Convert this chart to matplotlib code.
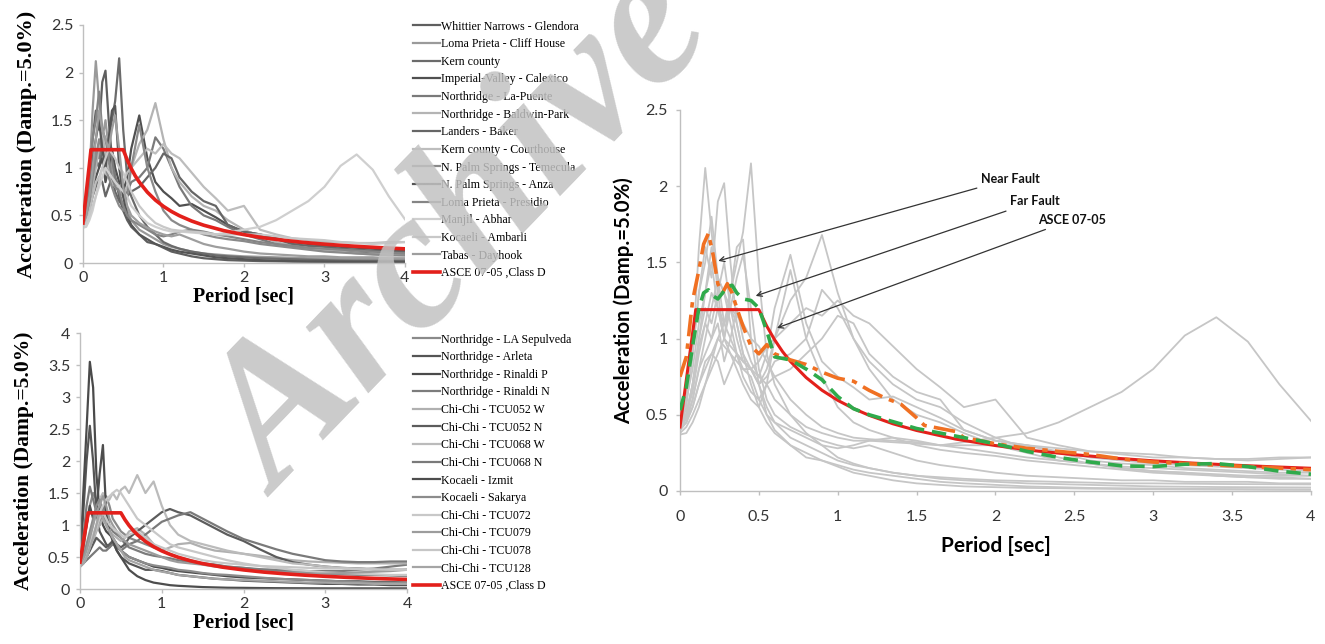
import matplotlib
matplotlib.use("Agg")
import matplotlib.pyplot as plt
from matplotlib.ticker import FuncFormatter, MultipleLocator

# ---------------------------------------------------------------- data
# common period grid (sec) for the individual record spectra
periods = [0, 0.04, 0.08, 0.12, 0.16, 0.2, 0.24, 0.28, 0.32, 0.36, 0.4, 0.45,
           0.5, 0.55, 0.6, 0.7, 0.8, 0.9, 1.0, 1.1, 1.2, 1.35, 1.5, 1.65, 1.8,
           2.0, 2.2, 2.4, 2.6, 2.8, 3.0, 3.2, 3.4, 3.6, 3.8, 4.0]

far_names = ["Whittier Narrows - Glendora", "Loma Prieta - Cliff House", "Kern county",
             "Imperial-Valley - Calexico", "Northridge - La-Puente", "Northridge - Baldwin-Park",
             "Landers - Baker", "Kern county - Courthouse", "N. Palm Springs - Temecula",
             "N. Palm Springs - Anza", "Loma Prieta - Presidio", "Manjil - Abhar",
             "Kocaeli - Ambarli", "Tabas - Dayhook"]
far_colors = ["#5f5f5f", "#9a9a9a", "#6b6b6b", "#505050", "#7a7a7a", "#b4b4b4", "#666666",
              "#bdbdbd", "#8a8a8a", "#555555", "#858585", "#cfcfcf", "#c8c8c8", "#9e9e9e"]

whittier = [0.42, 0.6, 0.9, 1.3, 1.6, 1.4, 1.9, 2.02, 1.5, 1.1, 0.9, 0.7, 0.55, 0.45, 0.38, 0.3, 0.22, 0.2,
            0.16, 0.12, 0.1, 0.07, 0.05, 0.04, 0.03, 0.025, 0.02, 0.018, 0.015, 0.013, 0.012, 0.011, 0.01,
            0.009, 0.008, 0.008]
cliff_house = [0.4, 0.55, 0.9, 1.6, 2.12, 1.7, 1.3, 1.5, 1.2, 1.0, 0.85, 0.8, 0.7, 0.55, 0.45, 0.35, 0.3, 0.25,
               0.2, 0.17, 0.15, 0.12, 0.1, 0.09, 0.08, 0.07, 0.065, 0.06, 0.055, 0.05, 0.05, 0.048, 0.046,
               0.045, 0.044, 0.043]
kern = [0.42, 0.5, 0.7, 0.95, 1.1, 1.0, 1.2, 1.1, 1.3, 1.5, 1.7, 2.15, 1.4, 0.9, 0.7, 0.5, 0.38, 0.3, 0.22,
        0.18, 0.15, 0.12, 0.1, 0.08, 0.07, 0.06, 0.05, 0.045, 0.04, 0.035, 0.03, 0.028, 0.026, 0.025, 0.024,
        0.023]
calexico = [0.4, 0.45, 0.6, 0.8, 0.9, 1.0, 1.1, 0.85, 1.0, 1.2, 1.0, 0.85, 0.75, 0.9, 1.2, 1.55, 1.1, 0.85,
            0.75, 0.68, 0.6, 0.62, 0.55, 0.48, 0.4, 0.33, 0.3, 0.26, 0.22, 0.2, 0.18, 0.17, 0.16, 0.15, 0.14,
            0.13]
la_puente = [0.42, 0.5, 0.7, 1.0, 1.2, 1.1, 1.3, 1.0, 1.2, 1.1, 0.9, 0.8, 0.7, 0.75, 0.85, 0.9, 1.0, 1.32,
             1.2, 1.0, 0.8, 0.6, 0.5, 0.45, 0.38, 0.3, 0.25, 0.2, 0.18, 0.15, 0.13, 0.12, 0.11, 0.1, 0.1, 0.1]
baldwin_park = [0.4, 0.48, 0.6, 0.8, 1.0, 1.2, 1.4, 1.1, 1.0, 0.9, 0.85, 0.8, 0.7, 0.8, 1.0, 1.25, 1.4, 1.68,
                1.3, 1.0, 0.85, 0.7, 0.6, 0.55, 0.45, 0.35, 0.28, 0.22, 0.18, 0.15, 0.13, 0.12, 0.1, 0.09,
                0.09, 0.08]
baker = [0.42, 0.45, 0.55, 0.7, 0.8, 0.9, 0.85, 0.7, 0.8, 0.9, 0.75, 0.65, 0.6, 0.7, 0.75, 0.8, 0.9, 1.0,
         1.15, 1.1, 0.9, 0.75, 0.65, 0.6, 0.4, 0.33, 0.3, 0.25, 0.2, 0.18, 0.17, 0.15, 0.14, 0.13, 0.12, 0.12]
courthouse = [0.4, 0.45, 0.55, 0.7, 0.85, 0.9, 1.0, 0.95, 0.9, 0.85, 0.8, 0.8, 0.85, 0.95, 1.0, 1.1, 1.2,
              1.15, 1.25, 1.15, 1.1, 0.95, 0.8, 0.68, 0.55, 0.6, 0.35, 0.3, 0.26, 0.24, 0.22, 0.22, 0.21,
              0.21, 0.22, 0.22]
temecula = [0.4, 0.5, 0.65, 0.9, 1.1, 1.3, 1.2, 1.0, 0.9, 0.8, 0.7, 0.6, 0.55, 0.7, 1.0, 1.45, 1.0, 0.75,
            0.55, 0.45, 0.4, 0.35, 0.3, 0.27, 0.25, 0.23, 0.2, 0.18, 0.16, 0.14, 0.12, 0.11, 0.1, 0.09, 0.08,
            0.08]
anza = [0.42, 0.6, 0.8, 1.1, 1.3, 1.5, 1.2, 1.0, 1.3, 1.6, 1.65, 1.0, 0.7, 0.5, 0.4, 0.3, 0.25, 0.2, 0.17,
        0.14, 0.12, 0.1, 0.08, 0.06, 0.05, 0.04, 0.03, 0.025, 0.02, 0.018, 0.016, 0.014, 0.013, 0.012, 0.011,
        0.01]
presidio = [0.42, 0.6, 0.9, 1.3, 1.5, 1.8, 1.4, 1.3, 1.1, 0.9, 0.8, 0.75, 0.6, 0.5, 0.45, 0.4, 0.35, 0.3,
            0.28, 0.3, 0.33, 0.35, 0.33, 0.3, 0.28, 0.25, 0.22, 0.2, 0.18, 0.16, 0.15, 0.14, 0.13, 0.12, 0.11,
            0.1]
abhar = [0.37, 0.38, 0.45, 0.55, 0.7, 0.8, 0.9, 1.0, 0.95, 0.9, 0.85, 0.8, 0.75, 0.7, 0.6, 0.5, 0.42, 0.38,
         0.35, 0.33, 0.33, 0.32, 0.31, 0.3, 0.32, 0.35, 0.38, 0.45, 0.55, 0.65, 0.8, 1.02, 1.14, 0.98, 0.7,
         0.46]
ambarli = [0.38, 0.42, 0.5, 0.6, 0.7, 0.85, 1.0, 1.1, 1.2, 1.15, 1.1, 1.0, 0.95, 0.85, 0.75, 0.6, 0.5, 0.42,
           0.38, 0.35, 0.34, 0.33, 0.32, 0.3, 0.3, 0.3, 0.3, 0.28, 0.26, 0.25, 0.24, 0.22, 0.21, 0.2, 0.21,
           0.22]
dayhook = [0.4, 0.5, 0.7, 1.0, 1.3, 1.6, 1.4, 1.3, 1.2, 1.4, 1.55, 1.2, 0.8, 0.6, 0.5, 0.42, 0.37, 0.33, 0.3,
           0.28, 0.3, 0.25, 0.2, 0.17, 0.15, 0.12, 0.1, 0.09, 0.08, 0.07, 0.07, 0.06, 0.06, 0.06, 0.05, 0.05]

far_records = [whittier, cliff_house, kern, calexico, la_puente, baldwin_park, baker, courthouse,
               temecula, anza, presidio, abhar, ambarli, dayhook]

near_names = ["Northridge - LA Sepulveda", "Northridge - Arleta", "Northridge - Rinaldi P",
              "Northridge - Rinaldi N", "Chi-Chi - TCU052 W", "Chi-Chi - TCU052 N", "Chi-Chi - TCU068 W",
              "Chi-Chi - TCU068 N", "Kocaeli - Izmit", "Kocaeli - Sakarya", "Chi-Chi - TCU072",
              "Chi-Chi - TCU079", "Chi-Chi - TCU078", "Chi-Chi - TCU128"]
near_colors = ["#8a8a8a", "#555555", "#4a4a4a", "#7c7c7c", "#b0b0b0", "#5c5c5c", "#bbbbbb", "#7a7a7a",
               "#4d4d4d", "#8c8c8c", "#c8c8c8", "#9c9c9c", "#c6c6c6", "#a5a5a5"]

sepulveda = [0.38, 0.6, 1.0, 1.3, 1.5, 1.4, 1.3, 1.2, 1.45, 1.3, 1.1, 1.0, 0.9, 0.85, 0.8, 0.75, 0.7, 0.65,
             0.6, 0.55, 0.5, 0.45, 0.4, 0.38, 0.35, 0.33, 0.3, 0.28, 0.26, 0.25, 0.24, 0.23, 0.22, 0.22, 0.21,
             0.2]
arleta = [0.4, 1.2, 2.0, 2.55, 2.0, 1.2, 0.9, 0.8, 0.7, 0.65, 0.75, 0.6, 0.5, 0.45, 0.4, 0.35, 0.3, 0.3,
          0.28, 0.25, 0.22, 0.2, 0.18, 0.16, 0.15, 0.13, 0.12, 0.11, 0.1, 0.09, 0.08, 0.08, 0.07, 0.07, 0.06,
          0.06]
rinaldi_p = [0.4, 1.5, 2.5, 3.55, 3.15, 1.8, 1.2, 1.0, 0.9, 0.85, 0.8, 0.7, 0.6, 0.55, 0.5, 0.45, 0.4, 0.35,
             0.33, 0.3, 0.28, 0.26, 0.24, 0.22, 0.2, 0.18, 0.17, 0.16, 0.15, 0.14, 0.13, 0.12, 0.12, 0.11,
             0.11, 0.1]
rinaldi_n = [0.4, 0.8, 1.3, 1.6, 1.4, 1.2, 1.0, 1.3, 1.2, 1.0, 0.9, 0.85, 0.8, 0.7, 0.65, 0.6, 0.55, 0.52,
             0.5, 0.48, 0.45, 0.42, 0.4, 0.38, 0.35, 0.33, 0.31, 0.3, 0.29, 0.28, 0.28, 0.28, 0.3, 0.32, 0.35,
             0.38]
tcu052w = [0.35, 0.4, 0.5, 0.6, 0.75, 0.9, 1.0, 1.1, 1.0, 0.9, 0.85, 0.8, 0.75, 0.8, 0.9, 0.95, 0.85, 0.7,
           0.6, 0.65, 0.7, 0.72, 0.65, 0.6, 0.58, 0.55, 0.52, 0.48, 0.45, 0.43, 0.42, 0.41, 0.4, 0.4, 0.4, 0.4]
tcu052n = [0.35, 0.4, 0.5, 0.6, 0.7, 0.8, 0.75, 0.7, 0.65, 0.7, 0.75, 0.7, 0.65, 0.7, 0.8, 0.9, 1.0, 1.1,
           1.2, 1.25, 1.2, 1.15, 1.05, 0.95, 0.85, 0.75, 0.62, 0.5, 0.42, 0.38, 0.35, 0.33, 0.32, 0.31, 0.3,
           0.3]
tcu068w = [0.35, 0.45, 0.6, 0.8, 1.0, 1.2, 1.4, 1.5, 1.35, 1.4, 1.5, 1.4, 1.55, 1.6, 1.5, 1.78, 1.5, 1.68,
           1.3, 1.0, 0.85, 0.75, 0.7, 0.65, 0.6, 0.55, 0.5, 0.45, 0.4, 0.38, 0.35, 0.33, 0.32, 0.3, 0.3, 0.3]
tcu068n = [0.35, 0.4, 0.45, 0.5, 0.55, 0.6, 0.65, 0.6, 0.6, 0.65, 0.7, 0.65, 0.6, 0.65, 0.7, 0.75, 0.85,
           0.95, 1.05, 1.1, 1.15, 1.2, 1.1, 1.0, 0.9, 0.78, 0.7, 0.62, 0.55, 0.5, 0.45, 0.43, 0.42, 0.42,
           0.43, 0.43]
izmit = [0.4, 0.7, 1.0, 1.3, 1.1, 1.2, 1.8, 2.25, 1.2, 0.9, 0.75, 0.6, 0.5, 0.4, 0.3, 0.2, 0.14, 0.1, 0.08,
         0.06, 0.05, 0.04, 0.03, 0.025, 0.02, 0.018, 0.015, 0.013, 0.012, 0.011, 0.01, 0.01, 0.01, 0.01,
         0.01, 0.01]
sakarya = [0.38, 0.5, 0.7, 0.9, 1.1, 1.3, 1.4, 1.2, 1.0, 0.9, 0.8, 0.7, 0.6, 0.55, 0.5, 0.45, 0.4, 0.37,
           0.35, 0.33, 0.3, 0.28, 0.25, 0.23, 0.22, 0.2, 0.18, 0.16, 0.15, 0.14, 0.13, 0.12, 0.11, 0.1, 0.1,
           0.1]
tcu072 = [0.35, 0.45, 0.55, 0.7, 0.85, 1.0, 1.2, 1.3, 1.4, 1.45, 1.5, 1.55, 1.5, 1.4, 1.3, 1.1, 1.0, 0.9,
          0.8, 0.7, 0.65, 0.6, 0.55, 0.5, 0.45, 0.4, 0.36, 0.33, 0.3, 0.28, 0.26, 0.25, 0.24, 0.23, 0.22, 0.22]
tcu079 = [0.35, 0.45, 0.6, 0.8, 1.0, 1.2, 1.3, 1.45, 1.3, 1.1, 1.0, 0.9, 0.8, 0.75, 0.7, 0.65, 0.6, 0.55,
          0.5, 0.45, 0.42, 0.4, 0.38, 0.35, 0.33, 0.3, 0.28, 0.26, 0.25, 0.24, 0.24, 0.25, 0.26, 0.27, 0.28,
          0.3]
tcu078 = [0.35, 0.4, 0.5, 0.65, 0.8, 0.95, 1.1, 1.2, 1.1, 1.0, 0.95, 0.9, 0.85, 0.8, 0.85, 0.9, 0.8, 0.7,
          0.65, 0.6, 0.55, 0.5, 0.45, 0.42, 0.4, 0.38, 0.36, 0.35, 0.34, 0.33, 0.32, 0.32, 0.31, 0.31, 0.3,
          0.3]
tcu128 = [0.35, 0.4, 0.5, 0.65, 0.8, 1.0, 1.2, 1.1, 1.0, 0.9, 0.8, 0.7, 0.6, 0.5, 0.45, 0.4, 0.35, 0.3,
          0.27, 0.25, 0.22, 0.2, 0.18, 0.16, 0.15, 0.14, 0.13, 0.12, 0.11, 0.1, 0.1, 0.09, 0.09, 0.08, 0.08,
          0.08]

near_records = [sepulveda, arleta, rinaldi_p, rinaldi_n, tcu052w, tcu052n, tcu068w, tcu068n, izmit,
                sakarya, tcu072, tcu079, tcu078, tcu128]

# ASCE 07-05 design spectrum, site class D
asce_periods = [0, 0.1, 0.5, 0.55, 0.6, 0.65, 0.7, 0.8, 0.9, 1.0, 1.1, 1.2, 1.35, 1.5, 1.75, 2.0, 2.25,
                2.5, 2.75, 3.0, 3.25, 3.5, 3.75, 4.0]
asce_sa = [0.42, 1.19, 1.19, 1.082, 0.992, 0.915, 0.85, 0.744, 0.661, 0.595, 0.541, 0.496, 0.441, 0.397,
           0.34, 0.298, 0.264, 0.238, 0.216, 0.198, 0.183, 0.17, 0.159, 0.149]
asce_label = "ASCE 07-05 ,Class D"

# mean spectra of the two record groups
mean_periods = [0, 0.04, 0.08, 0.12, 0.15, 0.18, 0.21, 0.24, 0.27, 0.3, 0.33, 0.36, 0.4, 0.45, 0.5, 0.55,
                0.6, 0.7, 0.8, 0.9, 1.0, 1.1, 1.2, 1.3, 1.4, 1.5, 1.55, 1.6, 1.7, 1.75, 1.8, 2.0, 2.2, 2.4,
                2.6, 2.8, 3.0, 3.2, 3.4, 3.6, 3.8, 4.0]
near_mean = [0.75, 0.88, 1.25, 1.45, 1.62, 1.69, 1.55, 1.36, 1.3, 1.36, 1.3, 1.2, 1.08, 0.95, 0.9, 0.96,
             0.9, 0.86, 0.83, 0.78, 0.74, 0.72, 0.66, 0.61, 0.57, 0.48, 0.43, 0.42, 0.4, 0.39, 0.35, 0.31,
             0.28, 0.26, 0.24, 0.21, 0.19, 0.18, 0.17, 0.16, 0.15, 0.14]
far_mean = [0.53, 0.68, 0.95, 1.2, 1.3, 1.32, 1.28, 1.26, 1.3, 1.34, 1.35, 1.3, 1.26, 1.25, 1.2, 1.05, 0.88,
            0.86, 0.8, 0.73, 0.62, 0.54, 0.5, 0.47, 0.44, 0.41, 0.4, 0.39, 0.37, 0.36, 0.35, 0.31, 0.26,
            0.22, 0.19, 0.165, 0.16, 0.175, 0.18, 0.16, 0.13, 0.11]

# ---------------------------------------------------------------- style
RED = "#e3201b"
SERIF = "Liberation Serif"
SANS = "Lato"
ylab = "Acceleration (Damp.=5.0%)"
xlab = "Period [sec]"
fmt = FuncFormatter(lambda v, _: f"{v:g}")

fig = plt.figure(figsize=(13.25, 6.44), dpi=100)


def excel_axes(ax, ymax, ystep, xstep, tick_size, xpad=4, ypad=4):
    ax.set_xlim(0, 4)
    ax.set_ylim(0, ymax)
    ax.xaxis.set_major_locator(MultipleLocator(xstep))
    ax.yaxis.set_major_locator(MultipleLocator(ystep))
    ax.xaxis.set_major_formatter(fmt)
    ax.yaxis.set_major_formatter(fmt)
    for s in ("top", "right"):
        ax.spines[s].set_visible(False)
    for s in ("left", "bottom"):
        ax.spines[s].set_color("#bfbfbf")
        ax.spines[s].set_linewidth(1.0)
    ax.tick_params(axis="both", color="#bfbfbf", length=3, width=1, labelsize=tick_size,
                   labelcolor="#333333")
    ax.tick_params(axis="x", pad=xpad)
    ax.tick_params(axis="y", pad=ypad)
    for lab in ax.get_xticklabels() + ax.get_yticklabels():
        lab.set_family(SANS)


def record_panel(rect, records, names, colors, ymax, legend_top, ylab_size):
    ax = fig.add_axes(rect)
    handles = []
    for vals, name, col in zip(records, names, colors):
        h, = ax.plot(periods, vals, color=col, lw=1.6, label=name, zorder=2)
        handles.append(h)
    h, = ax.plot(asce_periods, asce_sa, color=RED, lw=2.6, label=asce_label, zorder=3)
    handles.append(h)
    excel_axes(ax, ymax, 0.5, 1, 11.5, xpad=3)
    ax.set_xlabel(xlab, family=SERIF, weight="bold", fontsize=14.5, labelpad=1)
    ax.set_ylabel(ylab, family=SERIF, weight="bold", fontsize=ylab_size, labelpad=10)
    fig.legend(handles=handles, loc="upper left", bbox_to_anchor=(0.3117, legend_top),
               frameon=False, prop={"family": SERIF, "size": 8.6}, handlelength=2.3,
               handletextpad=0.05, labelspacing=0.47, borderpad=0, borderaxespad=0)
    return ax


ax_far = record_panel([0.0626, 0.5916, 0.2430, 0.3696], far_records, far_names, far_colors, 2.5,
                      0.968, 16)
ax_near = record_panel([0.0604, 0.0854, 0.2468, 0.3975], near_records, near_names, near_colors, 4,
                       0.482, 15.5)

# ---------------------------------------------------------------- comparison panel
ax = fig.add_axes([0.5132, 0.2376, 0.4762, 0.5916])
for vals in far_records:
    ax.plot(periods, vals, color="#c6c6c6", lw=1.3, zorder=2)
ax.plot(asce_periods, asce_sa, color=RED, lw=2.2, zorder=3)
ax.plot(mean_periods, near_mean, color="#f07022", lw=2.6, ls=(0, (6, 2, 1.5, 2)), zorder=4)
ax.plot(mean_periods, far_mean, color="#2faa4b", lw=2.6, ls=(0, (4, 2.2)), zorder=5)
excel_axes(ax, 2.5, 0.5, 0.5, 11.5, xpad=11, ypad=6)
ax.set_xlabel(xlab, family=SANS, weight="bold", fontsize=15, labelpad=8)
ax.set_ylabel(ylab, family=SANS, weight="bold", fontsize=14.7, labelpad=8)

arrow = dict(arrowstyle="->", color="#333333", lw=0.9, shrinkA=2, shrinkB=0)
note = dict(family=SANS, weight="bold", fontsize=9, color="#111111", ha="left", va="center")
ax.annotate("Near Fault", xy=(0.243, 1.51), xytext=(1.91, 2.05), arrowprops=arrow, **note)
ax.annotate("Far Fault", xy=(0.48, 1.28), xytext=(2.09, 1.90), arrowprops=arrow, **note)
ax.annotate("ASCE 07-05", xy=(0.615, 1.07), xytext=(2.27, 1.78), arrowprops=arrow, **note)

# watermark across the figure
fig.text(278 / 1325, 1 - 498 / 644, "Archive of SID", rotation=46, rotation_mode="anchor",
         ha="left", va="baseline", fontsize=142, family=SERIF, style="italic", weight="bold",
         color="#c2c2c2", alpha=0.85, zorder=20)

fig.savefig("out.png", dpi=100, facecolor="white")
